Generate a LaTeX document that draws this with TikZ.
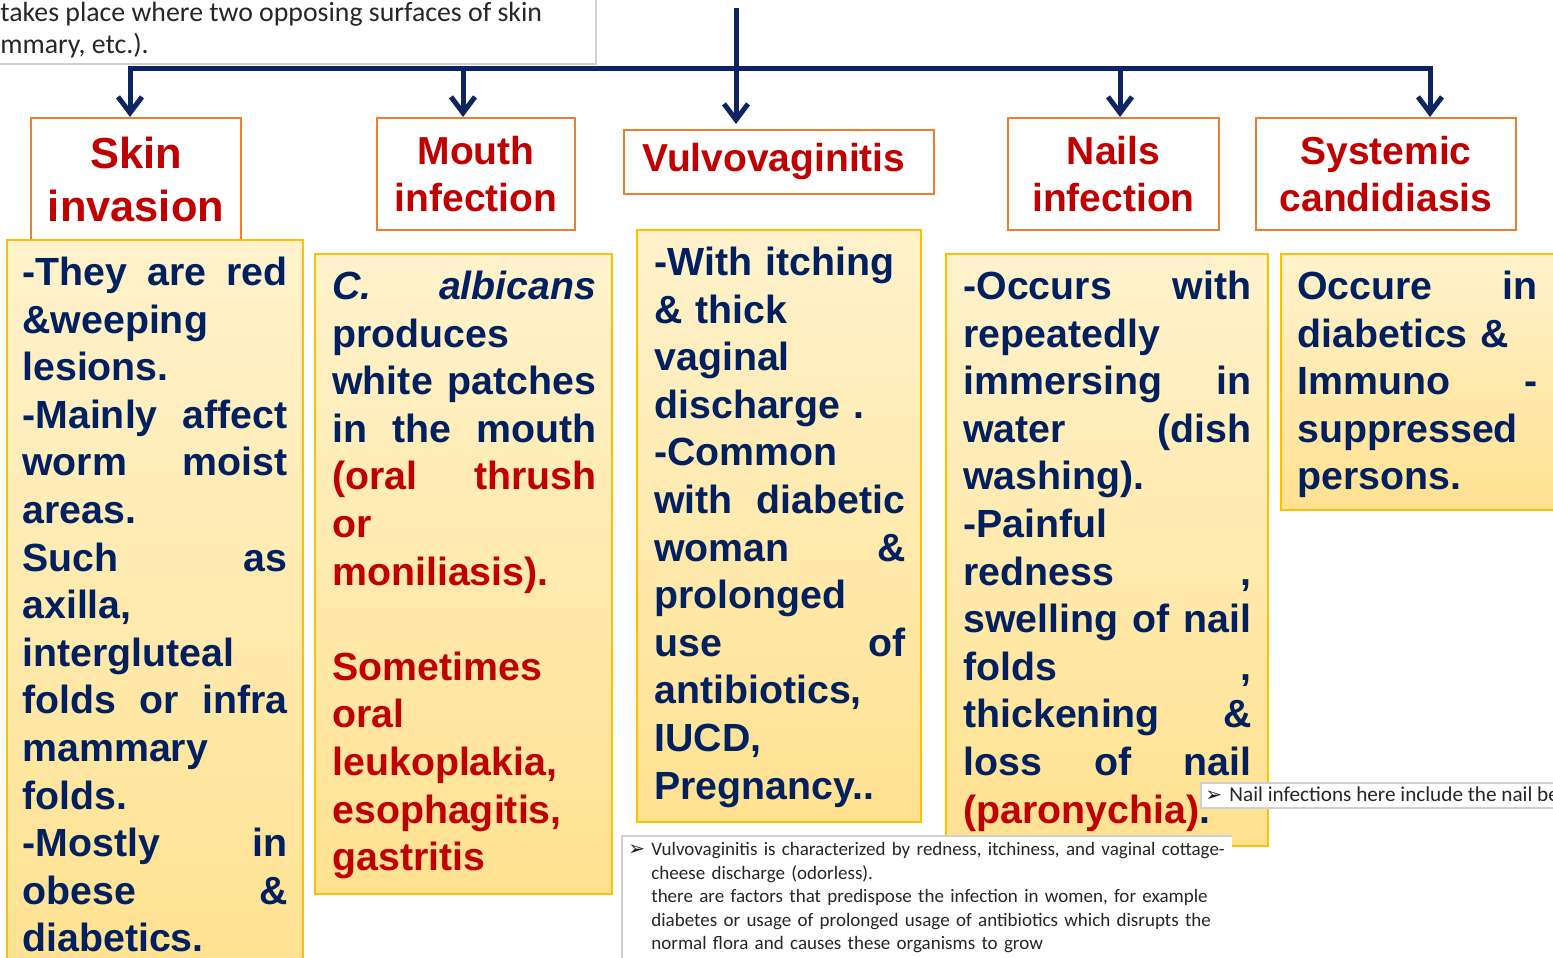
\documentclass[tikz,border=0pt]{standalone}
\usepackage{fontspec}
\setmainfont{Liberation Sans}
\newfontfamily\carl{Carlito}
\newfontfamily\dvs{DejaVu Sans}
\usetikzlibrary{arrows.meta}
\definecolor{navyc}{HTML}{002060}
\definecolor{redt}{HTML}{C00000}
\definecolor{orangeb}{HTML}{ED7D31}
\definecolor{yelb}{HTML}{FFC000}
\definecolor{yelA}{HTML}{FFF2CC}
\definecolor{yelB}{HTML}{FFE190}
\definecolor{linec}{HTML}{0C2461}
\definecolor{noteb}{HTML}{D0D0D0}
\newcommand\bodyfont{\bfseries\fontsize{19.65}{23.8}\selectfont}
\newcommand\titfont{\bfseries\fontsize{19.5}{23.5}\selectfont}
\newcommand\bigtitfont{\bfseries\fontsize{21.7}{26.5}\selectfont}
\newcommand\notefont{\carl\fontsize{9.5}{11.8}\selectfont}
\newcommand\J[1]{\hbox to\hsize{\strut\spaceskip=0.3em plus 1fill\relax #1}}
\newcommand\Lf[1]{\hbox to\hsize{\strut #1\hfil}}
\begin{document}
\begin{tikzpicture}[x=0.5pt,y=-0.5pt,
  title/.style={draw=orangeb, line width=1pt, fill=white, text=redt, align=center, inner sep=0pt, font=\titfont},
  content/.style={draw=yelb, line width=0.8pt, top color=yelA, bottom color=yelB},
  txt/.style={anchor=north west, inner sep=0pt, text=navyc, font=\bodyfont},
  bar/.style={draw=linec, line width=2.5pt, line cap=rect},
  arr/.style={draw=linec, line width=2.5pt, -{Straight Barb[length=8pt,width=12pt]}},
  notebox/.style={draw=noteb, line width=0.6pt},
  note/.style={anchor=north west, inner sep=0pt, text=black!85, font=\notefont}]
\useasboundingbox (0,0) rectangle (1553,958);
\begin{scope}
\clip (0,0) rectangle (1553,958);
% top-left text box
\draw[notebox] (-5,-5) rectangle (596,64);
\node[anchor=base west, inner sep=0pt, text=black!85, font=\carl\fontsize{13.9}{16}\selectfont] (tl1) at (0,21) {takes place where two opposing surfaces of skin};
\node[anchor=base west, inner sep=0pt, text=black!85, font=\carl\fontsize{13.9}{16}\selectfont] (tl2) at (0,54) {mmary, etc.).};

% title boxes
\node[title, font=\bigtitfont, minimum width=105pt, minimum height=61pt] (skin) at (136,179) {Skin\\invasion};
\node[title, minimum width=99pt, minimum height=56pt] (mouth) at (476,174) {Mouth\\infection};
\node[title, minimum width=155pt, minimum height=32pt] (vulvo) at (779,162) {\raisebox{-1.5pt}{Vulvovaginitis}\hspace{5pt}};
\node[title, minimum width=105.5pt, minimum height=56pt] (nails) at (1113.5,174) {Nails\\infection};
\node[title, minimum width=130pt, minimum height=56pt] (syst) at (1386,174) {Systemic\\candidiasis};

% connectors
\coordinate (top) at (736,8);
\coordinate (b1) at (130,68);
\coordinate (b2) at (463,68);
\coordinate (b3) at (736,68);
\coordinate (b4) at (1120,68);
\coordinate (b5) at (1430,68);
\draw[bar] (b1) -- (b5);
\draw[arr] (top) -- ([yshift=2.5pt]top |- vulvo.north);
\draw[arr] (b1) -- (b1 |- skin.north);
\draw[arr] (b2) -- (b2 |- mouth.north);
\draw[arr] (b4) -- (b4 |- nails.north);
\draw[arr] (b5) -- (b5 |- syst.north);

% content boxes
\draw[content] (7,240) rectangle (303,975);
\node[txt, text width=132.5pt] (skintxt) at (22,251.7) {%
\J{-They are red}
\Lf{\&weeping}
\Lf{lesions.}
\J{-Mainly affect}
\J{worm moist}
\Lf{areas.}
\J{Such as}
\Lf{axilla,}
\Lf{intergluteal}
\J{folds or infra}
\Lf{mammary}
\Lf{folds.}
\J{-Mostly in}
\J{obese \&}
\Lf{diabetics.}};

\draw[content] (315,254) rectangle (612,894);
\node[txt, text width=132pt] (mouthtxt) at (332,265.7) {%
\J{\textit{C.} \textit{albicans}}
\Lf{produces}
\J{white patches}
\J{in the mouth}
\J{\color{redt}(oral thrush}
\Lf{\color{redt}or}
\Lf{\color{redt}moniliasis).}
\Lf{}
\Lf{\color{redt}Sometimes}
\Lf{\color{redt}oral}
\Lf{\color{redt}leukoplakia,}
\Lf{\color{redt}esophagitis,}
\Lf{\color{redt}gastritis}};

\draw[content] (637,230) rectangle (921,822);
\node[txt, text width=125.5pt] (vulvotxt) at (654,241.7) {%
\Lf{-With itching}
\Lf{\& thick}
\Lf{vaginal}
\Lf{discharge .}
\Lf{-Common}
\J{with diabetic}
\J{woman \&}
\Lf{prolonged}
\J{use of}
\Lf{antibiotics,}
\Lf{IUCD,}
\Lf{Pregnancy..}};

\draw[content] (946,254) rectangle (1268,846);
\node[txt, text width=144pt] (nailstxt) at (963,265.7) {%
\J{-Occurs with}
\Lf{repeatedly}
\J{immersing in}
\J{water (dish}
\Lf{washing).}
\Lf{-Painful}
\J{redness ,}
\J{swelling of nail}
\J{folds ,}
\J{thickening \&}
\J{loss of nail}
\Lf{{\color{redt}(paronychia)}.}};

\draw[content] (1281,254) rectangle (1560,510);
\node[txt, text width=120pt] (systtxt) at (1297,265.7) {%
\J{Occure in}
\Lf{diabetics \&}
\J{Immuno -}
\Lf{suppressed}
\Lf{persons.}};

% notes
\draw[notebox, fill=white] (1201,783) rectangle (1570,808);
\node[anchor=base west, inner sep=0pt, text=black!90] (nailbul) at (1205,801) {\dvs\fontsize{10}{12}\selectfont ➢};
\node[anchor=base west, inner sep=0pt, text=black!85, font=\carl\fontsize{10.6}{12}\selectfont] (nailnote) at (1229,801) {Nail infections here include the nail be};

\fill[white] (622,836) rectangle (1232,965);
\draw[notebox] (622,965) |- (1232,836);
\node[anchor=base west, inner sep=0pt, text=black!90] (vbul) at (628,855) {\dvs\fontsize{10}{12}\selectfont ➢};
\node[note, text width=300pt] (vnote) at (651,838.5) {%
\Lf{Vulvovaginitis is characterized by redness, itchiness, and vaginal cottage-}
\Lf{cheese discharge (odorless).}
\Lf{there are factors that predispose the infection in women, for example}
\Lf{diabetes or usage of prolonged usage of antibiotics which disrupts the}
\Lf{normal flora and causes these organisms to grow}};
\end{scope}
\end{tikzpicture}
\end{document}
